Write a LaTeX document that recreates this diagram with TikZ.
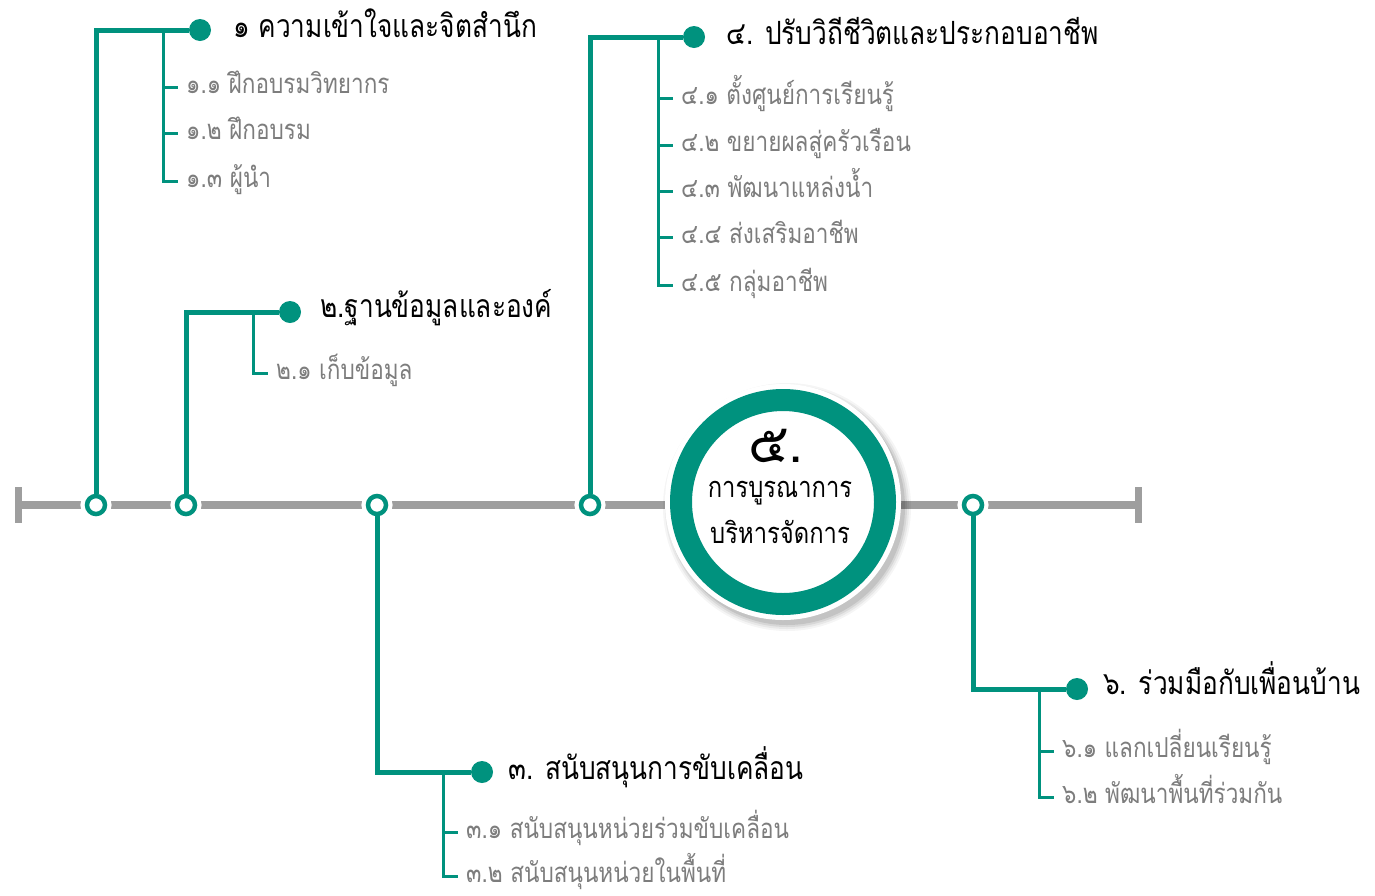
\documentclass[tikz,border=0pt]{standalone}
\usepackage{fontspec}
\newfontfamily\thai[Script=Thai]{Loma}
\newfontfamily\thaic[Script=Thai, FakeStretch=0.82]{Loma}
\usetikzlibrary{calc}
\definecolor{teal1}{RGB}{0,146,126}
\definecolor{axisgray}{RGB}{158,158,158}
\definecolor{subgray}{RGB}{125,125,125}
\tikzset{
  axisline/.style={line width=8pt, draw=axisgray},
  hub/.style={circle, draw=teal1, line width=4.5pt, fill=white, minimum size=18pt, inner sep=0pt,
    preaction={draw=white, line width=13pt}},
  dot/.style={circle, fill=teal1, minimum size=22pt, inner sep=0pt},
  branch/.style={draw=teal1, line width=5pt},
  subline/.style={draw=teal1, line width=3pt},
  head/.style={anchor=west, inner xsep=8pt, inner ysep=0pt, font=\thaic\fontsize{32}{35}\selectfont,
    text height=18pt, text depth=4pt, text=black},
  subtxt/.style={anchor=west, inner xsep=8pt, inner ysep=0pt, font=\thaic\fontsize{27.5}{30}\selectfont,
    text height=16pt, text depth=4pt, text=subgray},
  ctr/.style={font=\thaic\fontsize{29}{33}\selectfont, text=black, inner sep=0pt, text height=18pt, text depth=4pt}
}
\begin{document}
\begin{tikzpicture}[x=1pt,y=-1pt]
\useasboundingbox[fill=white] (0,0) rectangle (1375,895);
% axis
\coordinate (aL) at (18,505);
\coordinate (aR) at (1138,505);
\draw[axisline] (aL) -- (aR);
\draw[draw=axisgray, line width=7pt] ($(aL)+(0,-18)$) -- ($(aL)+(0,18)$);
\draw[draw=axisgray, line width=7pt] ($(aR)+(0,-18)$) -- ($(aR)+(0,18)$);
% center circle shadow
\foreach \r/\o in {124/0.04,122/0.05,120/0.07,118/0.09}{
  \fill[black, opacity=\o] (787,507) circle (\r);
}
\node[circle, minimum size=204pt, inner sep=0pt, draw=teal1, line width=22pt, fill=white,
  preaction={draw=white, line width=32pt}] (c5) at (783,502) {};
\node[ctr, font=\thai\fontsize{54}{58}\selectfont, text height=40pt, text depth=8pt] (c5a) at (776,446) {๕.};
\node[ctr] (c5b) at (780,490) {การบูรณาการ};
\node[ctr] (c5c) at (780,536) {บริหารจัดการ};
% hubs
\node[hub] (h1) at (96,505) {};
\node[hub] (h2) at (186,505) {};
\node[hub] (h3) at (377,505) {};
\node[hub] (h4) at (590,505) {};
\node[hub] (h6) at (973,505) {};
% dots
\node[dot] (d1) at (200,30) {};
\node[dot] (d2) at (290,312) {};
\node[dot] (d4) at (694,37) {};
\node[dot] (d3) at (482,772) {};
\node[dot] (d6) at (1077,689) {};
% headings
\node[head] (t1) at (225,30) {๑ ความเข้าใจและจิตสำนึก};
\node[head] (t2) at (312,310) {๒.ฐานข้อมูลและองค์};
\node[head] (t4) at (718,37) {๔. ปรับวิถีชีวิตและประกอบอาชีพ};
\node[head] (t3) at (500,772) {๓. สนับสนุนการขับเคลื่อน};
\node[head] (t6) at (1095,687) {๖. ร่วมมือกับเพื่อนบ้าน};
% main branches
\draw[branch] (h1.north) |- (d1.west);
\draw[branch] (h2.north) |- (d2.west);
\draw[branch] (h4.north) |- (d4.west);
\draw[branch] (h3.south) |- (d3.west);
\draw[branch] (h6.south) |- (d6.west);
% sub items 1
\coordinate (j1) at (163,30);
\node[subtxt] (s11) at (178,87) {๑.๑ ฝึกอบรมวิทยากร};
\node[subtxt] (s12) at (178,133) {๑.๒ ฝึกอบรม};
\node[subtxt] (s13) at (178,181) {๑.๓ ผู้นำ};
\draw[subline] (j1) |- (s13.west);
\draw[subline] (j1 |- s11.west) -- (s11.west);
\draw[subline] (j1 |- s12.west) -- (s12.west);
% sub items 2
\coordinate (j2) at (253,312);
\node[subtxt] (s21) at (268,373) {๒.๑ เก็บข้อมูล};
\draw[subline] (j2) |- (s21.west);
% sub items 4
\coordinate (j4) at (658,37);
\node[subtxt] (s41) at (673,98) {๔.๑ ตั้งศูนย์การเรียนรู้};
\node[subtxt] (s42) at (673,145) {๔.๒ ขยายผลสู่ครัวเรือน};
\node[subtxt] (s43) at (673,191) {๔.๓ พัฒนาแหล่งน้ำ};
\node[subtxt] (s44) at (673,237) {๔.๔ ส่งเสริมอาชีพ};
\node[subtxt] (s45) at (673,285) {๔.๕ กลุ่มอาชีพ};
\draw[subline] (j4) |- (s45.west);
\foreach \s in {s41,s42,s43,s44}{\draw[subline] (j4 |- \s.west) -- (\s.west);}
% sub items 3
\coordinate (j3) at (443,772);
\node[subtxt] (s31) at (458,832) {๓.๑ สนับสนุนหน่วยร่วมขับเคลื่อน};
\node[subtxt] (s32) at (458,876) {๓.๒ สนับสนุนหน่วยในพื้นที่};
\draw[subline] (j3) |- (s32.west);
\draw[subline] (j3 |- s31.west) -- (s31.west);
% sub items 6
\coordinate (j6) at (1039,689);
\node[subtxt] (s61) at (1054,751) {๖.๑ แลกเปลี่ยนเรียนรู้};
\node[subtxt] (s62) at (1054,797) {๖.๒ พัฒนาพื้นที่ร่วมกัน};
\draw[subline] (j6) |- (s62.west);
\draw[subline] (j6 |- s61.west) -- (s61.west);
\end{tikzpicture}
\end{document}
